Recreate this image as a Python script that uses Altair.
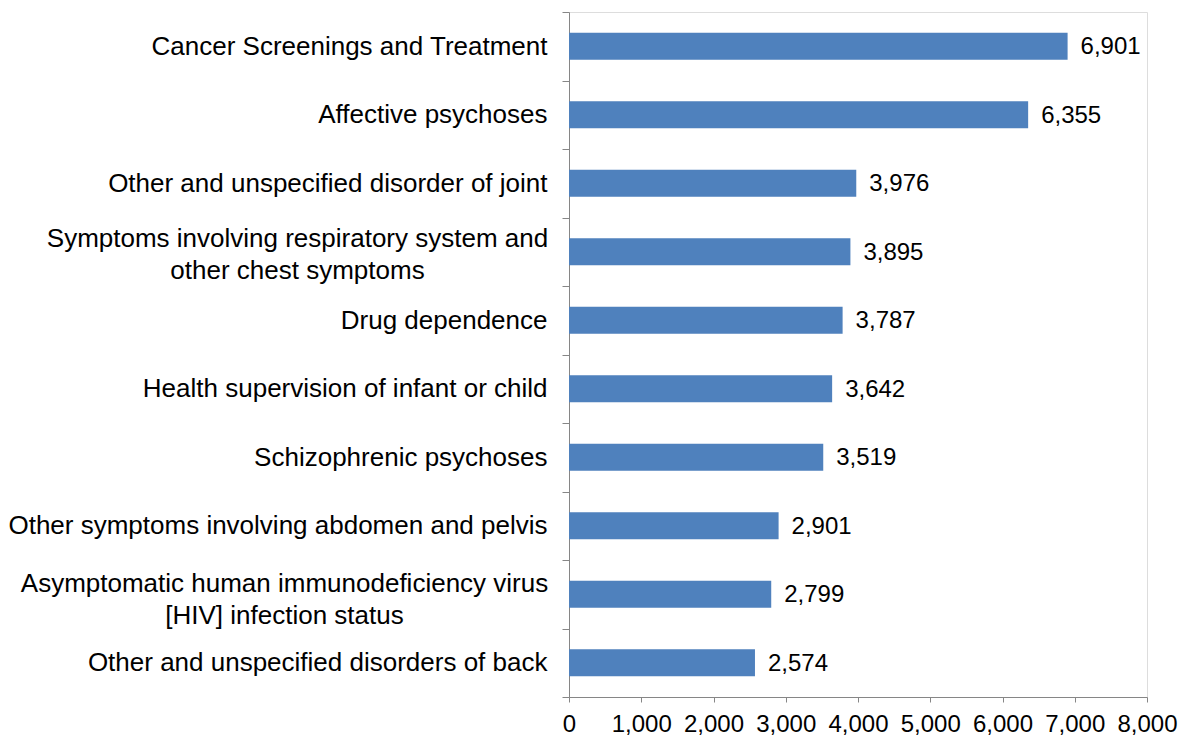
import altair as alt
import pandas as pd

categories = [
    "Cancer Screenings and Treatment",
    "Affective psychoses",
    "Other and unspecified disorder of joint",
    "Symptoms involving respiratory system and|other chest symptoms",
    "Drug dependence",
    "Health supervision of infant or child",
    "Schizophrenic psychoses",
    "Other symptoms involving abdomen and pelvis",
    "Asymptomatic human immunodeficiency virus|[HIV] infection status",
    "Other and unspecified disorders of back",
]
values = [6901, 6355, 3976, 3895, 3787, 3642, 3519, 2901, 2799, 2574]
x_ticks = [0, 1000, 2000, 3000, 4000, 5000, 6000, 7000, 8000]

df = pd.DataFrame({"category": categories, "value": values})

FONT = "Liberation Sans"
AXIS_GRAY = "#868686"
is_symp = "indexof(datum.label, 'Symptoms involving') == 0"
is_hiv = "indexof(datum.label, 'Asymptomatic') == 0"

y_enc = alt.Y(
    "category:N",
    sort=categories,
    title=None,
    scale=alt.Scale(paddingInner=0, paddingOuter=0),
    axis=alt.Axis(
        tickBand="extent",
        tickSize=7,
        tickColor=AXIS_GRAY,
        domainColor=AXIS_GRAY,
        labelExpr="split(datum.label, '|')",
        labelFont=FONT,
        labelFontSize=26,
        labelColor="black",
        labelLineHeight=32,
        labelLimit=600,
        labelAlign={"condition": {"test": is_symp + " || " + is_hiv, "value": "center"}, "value": "right"},
        labelPadding={
            "condition": [
                {"test": is_symp, "value": 265},
                {"test": is_hiv, "value": 278},
            ],
            "value": 15,
        },
        labelOffset={
            "condition": [
                {"test": is_symp, "value": -13},
                {"test": is_hiv, "value": -11},
            ],
            "value": 0,
        },
    ),
)

x_enc = alt.X(
    "value:Q",
    title=None,
    scale=alt.Scale(domain=[0, 8000], nice=False),
    axis=alt.Axis(
        values=x_ticks,
        labelExpr="format(datum.value, ',')",
        grid=False,
        tickSize=5,
        tickColor=AXIS_GRAY,
        domainColor=AXIS_GRAY,
        labelFont=FONT,
        labelFontSize=24,
        labelColor="black",
        labelPadding=10,
        labelFlush=False,
        labelOverlap=False,
    ),
)

bars = alt.Chart(df).mark_bar(color="#4F81BD", size=27).encode(y=y_enc, x=x_enc)

text = alt.Chart(df).mark_text(
    align="left", baseline="middle", dx=13, dy=1, font=FONT, fontSize=24, color="black"
).encode(
    y=alt.Y("category:N", sort=categories),
    x=alt.X("value:Q"),
    text=alt.Text("value:Q", format=","),
)

chart = (
    alt.layer(bars, text)
    .properties(
        width=578,
        height=685,
        autosize=alt.AutoSizeParams(type="none"),
        padding={"left": 561, "top": 4, "right": 34, "bottom": 40},
    )
    .configure_view(stroke=None)
    .configure(background="white")
)

chart.save("out.html", embed_options={"renderer": "svg", "actions": False})
